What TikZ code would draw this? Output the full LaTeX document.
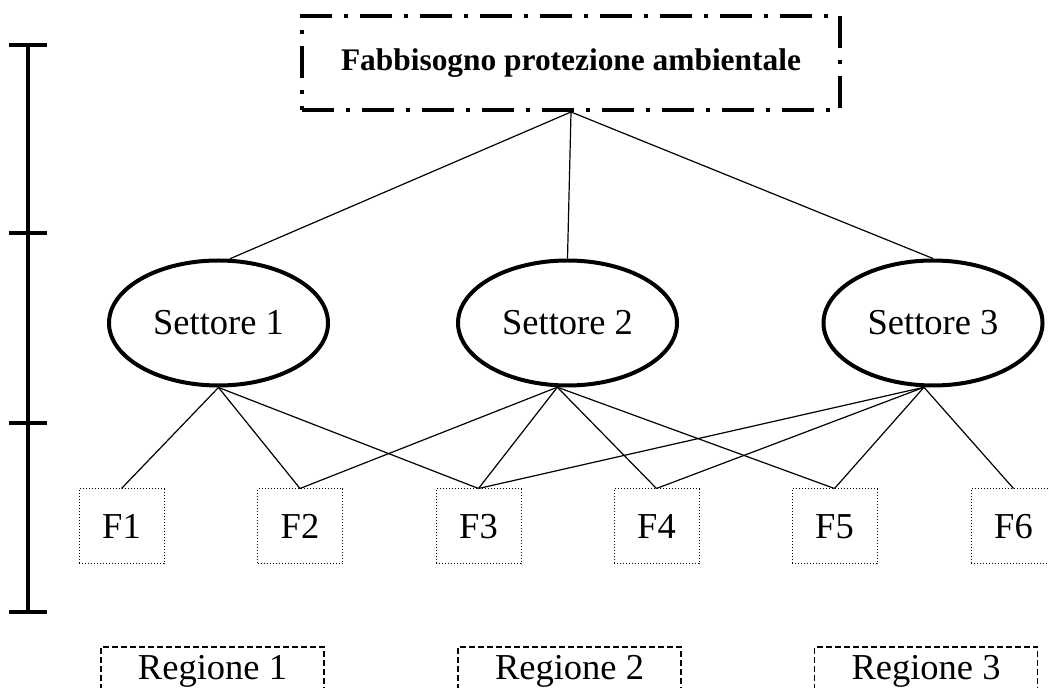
\documentclass[tikz,border=0pt]{standalone}
\usepackage{fontspec}
\setmainfont{Liberation Serif}
\usepackage{tikz}
\usetikzlibrary{shapes.geometric}

\begin{document}
\begin{tikzpicture}[x=0.5pt,y=-0.5pt,
  fabbisogno/.style={rectangle,draw,line width=2pt,dash pattern=on 16pt off 6pt on 2pt off 6pt,minimum width=269pt,minimum height=47pt,inner sep=0pt,font=\fontsize{15.7}{19}\selectfont\bfseries},
  settore/.style={ellipse,draw,line width=2pt,minimum width=109.5pt,minimum height=62.5pt,inner sep=0pt,font=\fontsize{18.25}{22}\selectfont},
  fattore/.style={rectangle,draw,densely dotted,line width=0.5pt,minimum width=42.5pt,minimum height=37.5pt,inner sep=0pt,font=\fontsize{18.25}{22}\selectfont},
  regione/.style={rectangle,draw,dash pattern=on 3pt off 1.5pt,line width=0.7pt,minimum width=111.5pt,minimum height=24pt,inner sep=0pt,font=\fontsize{18.25}{22}\selectfont},
  legame/.style={line width=0.6pt},
  livello/.style={line width=2.25pt}]
\useasboundingbox (0,0) rectangle (1049,688);
\clip (0,0) rectangle (1049,688);
% scala dei livelli
\draw[livello] (28,45) -- (28,612);
\draw[livello] (9,45) -- (47,45);
\draw[livello] (9,233) -- (47,233);
\draw[livello] (9,423) -- (47,423);
\draw[livello] (9,612) -- (47,612);
% obiettivo
\node (fab) at (571,63)[fabbisogno]{Fabbisogno protezione ambientale};
% settori
\node (s1) at (218.5,323)[settore]{Settore 1};
\node (s2) at (567.5,323)[settore]{Settore 2};
\node (s3) at (933,323)[settore]{Settore 3};
% fattori
\node (f1) at (121.5,526.5)[fattore]{F1};
\node (f2) at (300,526.5)[fattore]{F2};
\node (f3) at (478.5,526.5)[fattore]{F3};
\node (f4) at (656.5,526.5)[fattore]{F4};
\node (f5) at (834.5,526.5)[fattore]{F5};
\node (f6) at (1013.5,526.5)[fattore]{F6};
% regioni
\node (r1) at (212.5,671)[regione]{Regione 1};
\node (r2) at (569.5,671)[regione]{Regione 2};
\node (r3) at (926,671)[regione]{Regione 3};
% legami
\draw[legame] (fab.south) -- (s1.80);
\draw[legame] (fab.south) -- (s2.north);
\draw[legame] (fab.south) -- (s3.north);
\draw[legame] (s1.south) -- (f1.north);
\draw[legame] (s1.south) -- (f2.north);
\draw[legame] (s1.south) -- (f3.north);
\draw[legame] (s2.261) -- (f2.north);
\draw[legame] (s2.261) -- (f3.north);
\draw[legame] (s2.261) -- (f4.north);
\draw[legame] (s2.261) -- (f5.north);
\draw[legame] (s3.262) -- (f3.north);
\draw[legame] (s3.262) -- (f4.north);
\draw[legame] (s3.262) -- (f5.north);
\draw[legame] (s3.262) -- (f6.north);
\end{tikzpicture}
\end{document}
